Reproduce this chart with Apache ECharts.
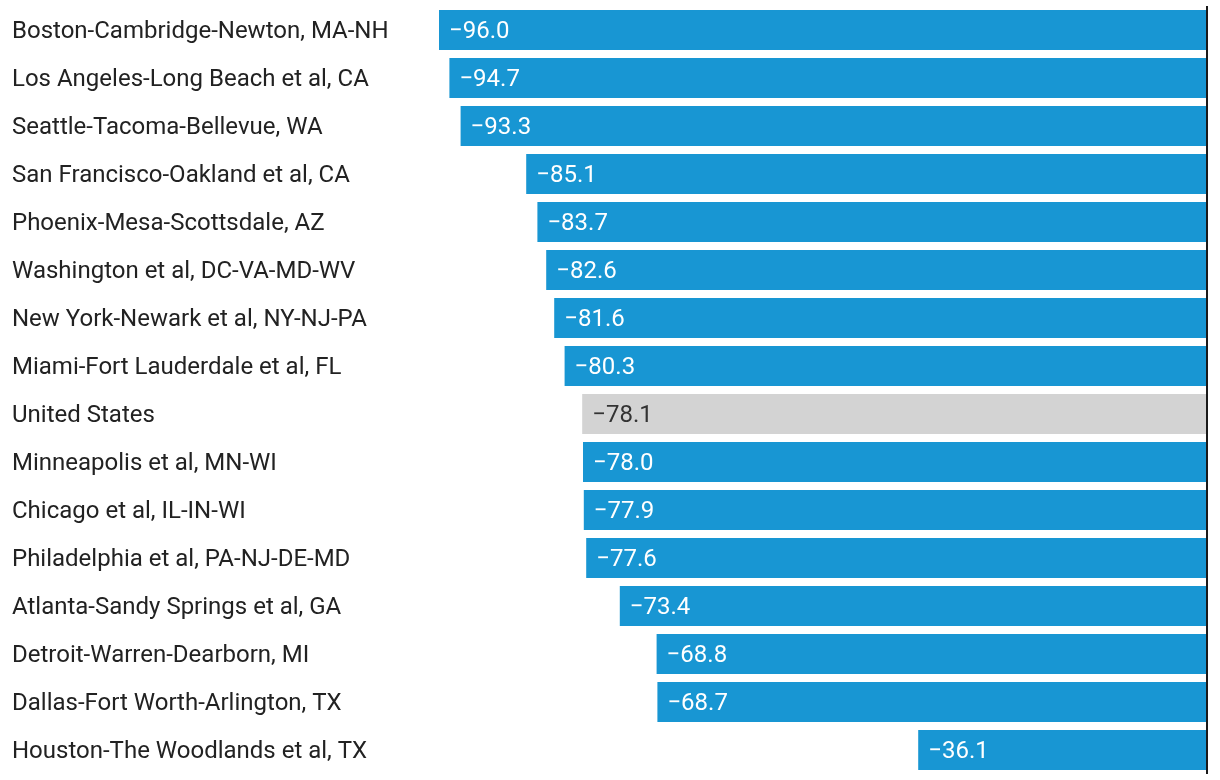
<!DOCTYPE html>
<html><head><meta charset="utf-8">
<script src="https://cdn.jsdelivr.net/npm/echarts@6/dist/echarts.min.js"></script>
<style>html,body{margin:0;padding:0;background:#fff}#c{width:1220px;height:780px}</style>
</head><body><div id="c"></div>
<script>
const categories = [
  "Boston-Cambridge-Newton, MA-NH",
  "Los Angeles-Long Beach et al, CA",
  "Seattle-Tacoma-Bellevue, WA",
  "San Francisco-Oakland et al, CA",
  "Phoenix-Mesa-Scottsdale, AZ",
  "Washington et al, DC-VA-MD-WV",
  "New York-Newark et al, NY-NJ-PA",
  "Miami-Fort Lauderdale et al, FL",
  "United States",
  "Minneapolis et al, MN-WI",
  "Chicago et al, IL-IN-WI",
  "Philadelphia et al, PA-NJ-DE-MD",
  "Atlanta-Sandy Springs et al, GA",
  "Detroit-Warren-Dearborn, MI",
  "Dallas-Fort Worth-Arlington, TX",
  "Houston-The Woodlands et al, TX"
];
const values = [-96.0, -94.7, -93.3, -85.1, -83.7, -82.6, -81.6, -80.3, -78.1, -78.0, -77.9, -77.6, -73.4, -68.8, -68.7, -36.1];
const highlight = "United States";

const chart = echarts.init(document.getElementById('c'));
const data = values.map((v, i) => {
  const us = categories[i] === highlight;
  return {
    value: v,
    itemStyle: { color: us ? '#d3d3d3' : '#1896d3' },
    label: { color: us ? '#333333' : '#ffffff' }
  };
});
chart.setOption({
  animation: false,
  grid: { left: 407, right: 13, top: 6, bottom: 6, containLabel: false },
  xAxis: { type: 'value', min: -100, max: 0, show: false },
  yAxis: {
    type: 'category', data: categories, inverse: true,
    axisLine: { show: false }, axisTick: { show: false },
    axisLabel: {
      align: 'left', margin: 395,
      formatter: v => '{a|' + v + '}',
      rich: { a: { fontFamily: 'Roboto', fontSize: 24, color: '#222222', padding: [4, 0, 0, 0] } }
    }
  },
  series: [{
    type: 'bar', data: data, barWidth: 40,
    label: {
      show: true, position: 'insideLeft', distance: 10, offset: [0, 2],
      fontFamily: 'Roboto', fontSize: 24,
      formatter: p => '\u2212' + Math.abs(p.value).toFixed(1)
    },
    markLine: {
      silent: true, symbol: 'none', label: { show: false },
      lineStyle: { color: '#1a1a1a', width: 2, type: 'solid' },
      data: [{ xAxis: 0 }]
    }
  }]
});
</script></body></html>
